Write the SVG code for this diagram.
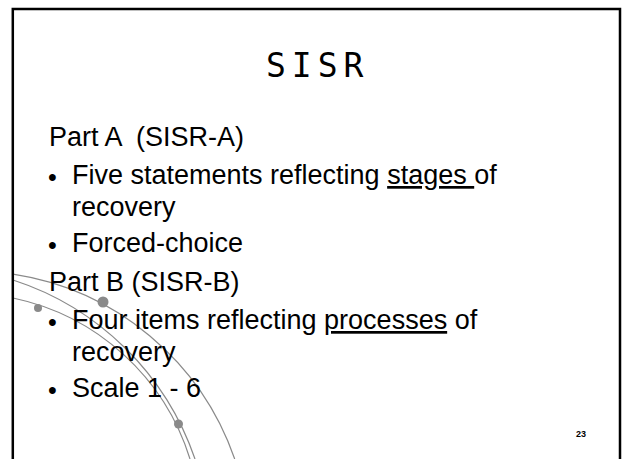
<svg xmlns="http://www.w3.org/2000/svg" width="622" height="459" viewBox="0 0 622 459">
<style>
.body{font-family:"Liberation Sans",Arial,sans-serif;font-size:27px;fill:#000}
.bul{font-family:"Liberation Sans",Arial,sans-serif;font-size:25px;fill:#000}
.arc{fill:none;stroke:#8a8a8a;stroke-width:1.2}
.dot{fill:#8a8a8a}
.u{text-decoration:underline}
</style>
<rect width="622" height="459" fill="#fff"/>
<g id="decor">
<path class="arc" d="M 13 274.2 A 279 279 0 0 1 234.7 459"/>
<path class="arc" d="M 13 280 A 285.4 285.4 0 0 1 195 459"/>
<path class="arc" d="M 13 298 A 236 236 0 0 1 190 459"/>
<circle class="dot" cx="103" cy="302" r="5.5"/>
<circle class="dot" cx="38" cy="308" r="4"/>
<circle class="dot" cx="178.5" cy="424" r="4.5"/>
</g>
<g id="frame" fill="none" stroke="#000">
<path d="M 12.8 459 V 9 H 620 V 459" stroke-width="2.5"/>
</g>
<g id="title">
<text x="266" y="77" font-family="DejaVu Sans Mono,monospace" font-size="33" letter-spacing="6" fill="#000">SISR</text>
</g>
<g id="content">
<text class="body" x="49" y="146" xml:space="preserve">Part A  (SISR-A)</text>
<text class="bul" x="48" y="186">•</text>
<text class="body" x="72" y="184">Five statements reflecting <tspan class="u">stages </tspan>of</text>
<text class="body" x="72" y="216">recovery</text>
<text class="bul" x="48" y="254">•</text>
<text class="body" x="72" y="252">Forced-choice</text>
<text class="body" x="49" y="291">Part B (SISR-B)</text>
<text class="bul" x="48" y="331">•</text>
<text class="body" x="72" y="329">Four items reflecting <tspan class="u">processes</tspan> of</text>
<text class="body" x="72" y="361">recovery</text>
<text class="bul" x="48" y="399">•</text>
<text class="body" x="72" y="397">Scale 1 - 6</text>
</g>
<g id="pagenum">
<text x="581" y="437" font-family="Liberation Sans,Arial,sans-serif" font-size="9" font-weight="bold" text-anchor="middle" fill="#000">23</text>
</g>
</svg>
